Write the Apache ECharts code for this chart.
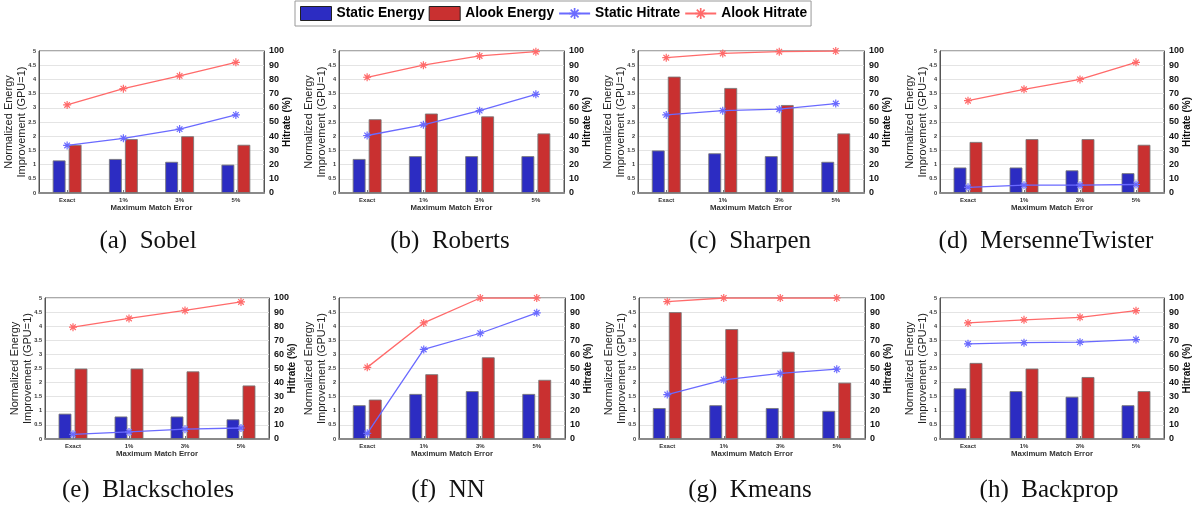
<!DOCTYPE html>
<html>
<head>
<meta charset="utf-8">
<script src="https://cdn.jsdelivr.net/npm/echarts@6/dist/echarts.min.js"></script>
<style>
  html, body { margin: 0; padding: 0; background: #fff; }
  #chart { width: 1195px; height: 508px; }
</style>
</head>
<body>
<div id="chart"></div>
<script>
// Error levels shared by every panel
const errorLevels = ['Exact', '1%', '3%', '5%'];

// Benchmarks, in panel order (a)..(h)
const benchmarks = ['Sobel', 'Roberts', 'Sharpen', 'MersenneTwister',
                    'Blackscholes', 'NN', 'Kmeans', 'Backprop'];
const panelLetters = ['a', 'b', 'c', 'd', 'e', 'f', 'g', 'h'];

// Normalized energy improvement (GPU = 1), one row per benchmark
const staticEnergy = [
  [1.15, 1.2, 1.1, 1.0],
  [1.2, 1.3, 1.3, 1.3],
  [1.5, 1.4, 1.3, 1.1],
  [0.9, 0.9, 0.8, 0.7],
  [0.9, 0.8, 0.8, 0.7],
  [1.2, 1.6, 1.7, 1.6],
  [1.1, 1.2, 1.1, 1.0],
  [1.8, 1.7, 1.5, 1.2]
];
const alookEnergy = [
  [1.7, 1.9, 2.0, 1.7],
  [2.6, 2.8, 2.7, 2.1],
  [4.1, 3.7, 3.1, 2.1],
  [1.8, 1.9, 1.9, 1.7],
  [2.5, 2.5, 2.4, 1.9],
  [1.4, 2.3, 2.9, 2.1],
  [4.5, 3.9, 3.1, 2.0],
  [2.7, 2.5, 2.2, 1.7]
];

// Hit rate (%), one row per benchmark
const staticHitrate = [
  [33.5, 38.5, 45, 55],
  [40.5, 48, 58, 69.5],
  [55, 58, 59, 63],
  [4, 5.5, 5.5, 6],
  [3.3, 5, 7, 7.8],
  [4, 63.5, 75, 89.5],
  [31.5, 42, 46.5, 49.5],
  [67.5, 68.3, 68.7, 70.5]
];
const alookHitrate = [
  [62, 73.5, 82.5, 92],
  [81.5, 90, 96.5, 99.5],
  [95.3, 98.3, 99.5, 100],
  [65, 73, 80, 92],
  [79.3, 85.5, 91.2, 97.2],
  [50.8, 82.3, 100, 100],
  [97.5, 100, 100, 100],
  [82.3, 84.5, 86.3, 91]
];

const seriesNames = ['Static Energy', 'Alook Energy', 'Static Hitrate', 'Alook Hitrate'];

// Plot boxes for the 2 x 4 panel layout
const panelBoxes = [
  { left: 39,  top: 51,  width: 225, height: 142 },
  { left: 339, top: 51,  width: 225, height: 142 },
  { left: 638, top: 51,  width: 226, height: 142 },
  { left: 940, top: 51,  width: 224, height: 142 },
  { left: 45,  top: 298, width: 224, height: 141 },
  { left: 339, top: 298, width: 226, height: 141 },
  { left: 639, top: 298, width: 226, height: 141 },
  { left: 940, top: 298, width: 224, height: 141 }
];
const captionCenters = [
  [148, 241], [450, 241], [750, 241], [1046, 241],
  [148, 490], [448, 490], [750, 490], [1049, 490]
];

const FONT = '"Liberation Sans", Arial, Helvetica, sans-serif';
const BLUE_BAR = '#2c2cc2';
const RED_BAR = '#c93030';
const BLUE_LINE = '#6a6aff';
const RED_LINE = '#ff6a6a';

// Eight-armed asterisk marker
const ASTERISK = 'path://M-1.5,-10L1.5,-10L1.5,10L-1.5,10Z' +
  'M-10,-1.5L10,-1.5L10,1.5L-10,1.5Z' +
  'M-5.94,-8.06L8.06,5.94L5.94,8.06L-8.06,-5.94Z' +
  'M8.06,-5.94L-5.94,8.06L-8.06,5.94L5.94,-8.06Z';

const grids = [], xAxes = [], yAxes = [], series = [], graphics = [];

benchmarks.forEach((name, i) => {
  const box = panelBoxes[i];
  grids.push(Object.assign({
    show: true, borderColor: '#555', borderWidth: 1, backgroundColor: 'transparent',
    containLabel: false, outerBoundsMode: 'none'
  }, box));

  xAxes.push({
    type: 'category', gridIndex: i, data: errorLevels,
    name: 'Maximum Match Error', nameLocation: 'middle', nameGap: 11,
    nameMoveOverlap: false,
    nameTextStyle: { fontFamily: FONT, fontSize: 7.8, fontWeight: 'bold', color: '#333' },
    axisLine: { show: true, lineStyle: { color: '#8a8a8a', width: 2 } },
    axisTick: { show: true, inside: true, alignWithLabel: true, length: 3, lineStyle: { color: '#777' } },
    axisLabel: { fontFamily: FONT, fontSize: 6, fontWeight: 'bold', color: '#333', margin: 4 },
    splitLine: { show: false }
  });

  yAxes.push({
    type: 'value', gridIndex: i, position: 'left', min: 0, max: 5, interval: 0.5,
    name: 'Normalized Energy\nImprovement (GPU=1)', nameLocation: 'middle',
    nameRotate: 90, nameGap: 10, nameMoveOverlap: false,
    nameTextStyle: { fontFamily: FONT, fontSize: 11, color: '#222', lineHeight: 13.5 },
    axisLine: { show: true, lineStyle: { color: '#555', width: 1 } },
    axisTick: { show: false },
    axisLabel: { fontFamily: FONT, fontSize: 5.6, fontWeight: 'bold', color: '#333', margin: 3 },
    splitLine: { show: true, lineStyle: { color: '#e4e4e4', width: 1 } }
  });
  yAxes.push({
    type: 'value', gridIndex: i, position: 'right', min: 0, max: 100, interval: 10,
    name: 'Hitrate (%)', nameLocation: 'middle', nameRotate: 90, nameGap: 18,
    nameMoveOverlap: false,
    nameTextStyle: { fontFamily: FONT, fontSize: 10, fontWeight: 'bold', color: '#111' },
    axisLine: { show: true, lineStyle: { color: '#555', width: 1 } },
    axisTick: { show: false },
    axisLabel: { fontFamily: FONT, fontSize: 9, fontWeight: 'bold', color: '#111', margin: 5 },
    splitLine: { show: false }
  });

  series.push({
    name: seriesNames[0], type: 'bar', xAxisIndex: i, yAxisIndex: 2 * i,
    data: staticEnergy[i], barWidth: 13, barGap: '23%',
    itemStyle: { color: BLUE_BAR, borderColor: 'rgba(120,120,120,0.85)', borderWidth: 1 }
  });
  series.push({
    name: seriesNames[1], type: 'bar', xAxisIndex: i, yAxisIndex: 2 * i,
    data: alookEnergy[i], barWidth: 13, barGap: '23%',
    itemStyle: { color: RED_BAR, borderColor: 'rgba(120,120,120,0.85)', borderWidth: 1 }
  });
  series.push({
    name: seriesNames[2], type: 'line', xAxisIndex: i, yAxisIndex: 2 * i + 1,
    data: staticHitrate[i], z: 5,
    symbol: ASTERISK, symbolSize: 8,
    lineStyle: { color: BLUE_LINE, width: 1.3 },
    itemStyle: { color: BLUE_LINE }
  });
  series.push({
    name: seriesNames[3], type: 'line', xAxisIndex: i, yAxisIndex: 2 * i + 1,
    data: alookHitrate[i], z: 5,
    symbol: ASTERISK, symbolSize: 8,
    lineStyle: { color: RED_LINE, width: 1.3 },
    itemStyle: { color: RED_LINE }
  });

  graphics.push({
    type: 'text', x: captionCenters[i][0], y: captionCenters[i][1],
    style: {
      text: '(' + panelLetters[i] + ')  ' + name,
      fontFamily: '"Liberation Serif", "Times New Roman", serif',
      fontSize: 25, fill: '#111',
      textAlign: 'center', textVerticalAlign: 'middle'
    }
  });
});

const chart = echarts.init(document.getElementById('chart'), null, { renderer: 'canvas' });
chart.setOption({
  animation: false,
  backgroundColor: '#fff',
  legend: {
    left: 295, top: 1,
    data: [
      { name: seriesNames[0], icon: 'rect', itemStyle: { borderColor: '#222', borderWidth: 1 } },
      { name: seriesNames[1], icon: 'rect', itemStyle: { borderColor: '#222', borderWidth: 1 } },
      { name: seriesNames[2] },
      { name: seriesNames[3] }
    ],
    itemWidth: 31, itemHeight: 14, itemGap: 4,
    padding: [5, 4, 5, 5],
    borderColor: '#999', borderWidth: 1,
    textStyle: { fontFamily: FONT, fontSize: 13.8, fontWeight: 'bold', color: '#000' }
  },
  grid: grids,
  xAxis: xAxes,
  yAxis: yAxes,
  series: series,
  graphic: graphics
});
</script>
</body>
</html>
